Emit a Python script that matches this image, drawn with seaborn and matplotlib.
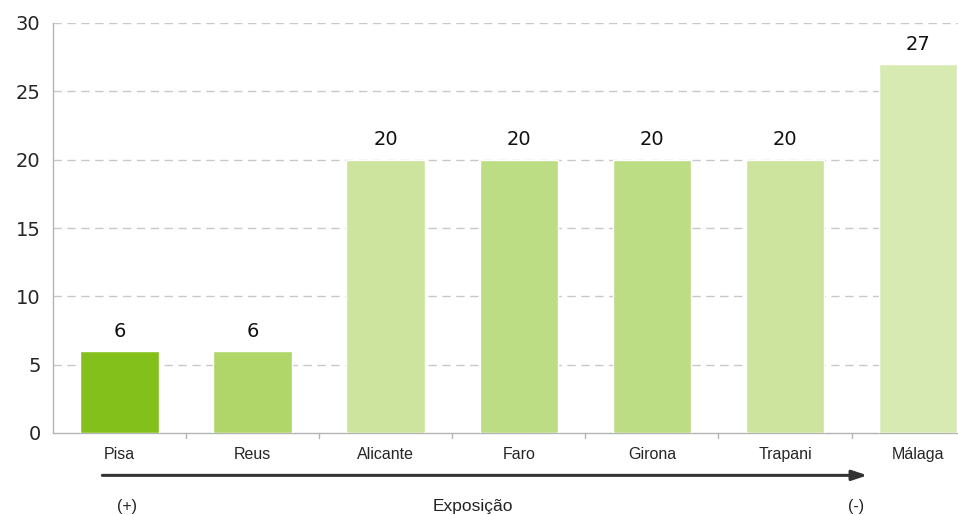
import matplotlib
matplotlib.use("Agg")
import matplotlib.pyplot as plt
import seaborn as sns
import pandas as pd

cities = ["Pisa", "Reus", "Alicante", "Faro", "Girona", "Trapani", "Málaga"]
values = [6, 6, 20, 20, 20, 20, 27]
bar_colors = ["#84c01c", "#b0d66a", "#cce49e", "#bddd84", "#bddd84", "#cce49e", "#d6eab2"]
yticks = [0, 5, 10, 15, 20, 25, 30]

df = pd.DataFrame({"city": cities, "value": values})

sns.set_style("white")
fig = plt.figure(figsize=(9.58, 5.15), dpi=100)
ax = fig.add_axes([53 / 958, 1 - 433 / 515, 1 - 53 / 958, 410 / 515])

sns.barplot(data=df, x="city", y="value", hue="city", palette=bar_colors,
            legend=False, width=0.59, ax=ax, saturation=1, zorder=3)

ax.set_xlim(-0.5, 6.3)
ax.set_ylim(0, 30)
ax.set_yticks(yticks)
ax.set_xlabel("")
ax.set_ylabel("")

# grid
for y in yticks[1:]:
    ax.axhline(y, color="#c8c8c8", lw=1, ls=(0, (6, 4)), zorder=1)

for s in ["top", "right"]:
    ax.spines[s].set_visible(False)
for s in ["left", "bottom"]:
    ax.spines[s].set_color("#b4b4b4")
    ax.spines[s].set_linewidth(1)

# y ticks
ax.tick_params(axis="y", length=5, color="#b4b4b4", labelsize=14, pad=4)
ax.tick_params(axis="x", length=0, labelsize=11.5, pad=10)
for lab in ax.get_xticklabels():
    lab.set_fontfamily("Liberation Sans")

# category separators
for i in range(len(cities)):
    ax.plot([i + 0.5, i + 0.5], [0, -0.35], color="#b4b4b4", lw=1, clip_on=False)

# value labels
for i, v in enumerate(values):
    ax.text(i, v + 0.75, str(v), ha="center", va="bottom", fontsize=14, color="#111111")

# exposure arrow
ax.annotate("", xy=(5.64, -3.1), xytext=(-0.15, -3.1), xycoords="data",
            arrowprops=dict(arrowstyle="-|>,head_length=0.9,head_width=0.3",
                            color="#333333", lw=2.2), annotation_clip=False)
fig.text(127 / 958, 1 - 507 / 515, "(+)", ha="center", va="center", fontsize=11.5,
         family="Liberation Sans", color="#222222")
fig.text(473 / 958, 1 - 507 / 515, "Exposição", ha="center", va="center", fontsize=12.5,
         family="Liberation Sans", color="#222222")
fig.text(856 / 958, 1 - 507 / 515, "(-)", ha="center", va="center", fontsize=11.5,
         family="Liberation Sans", color="#222222")

fig.savefig("out.png", dpi=100)
